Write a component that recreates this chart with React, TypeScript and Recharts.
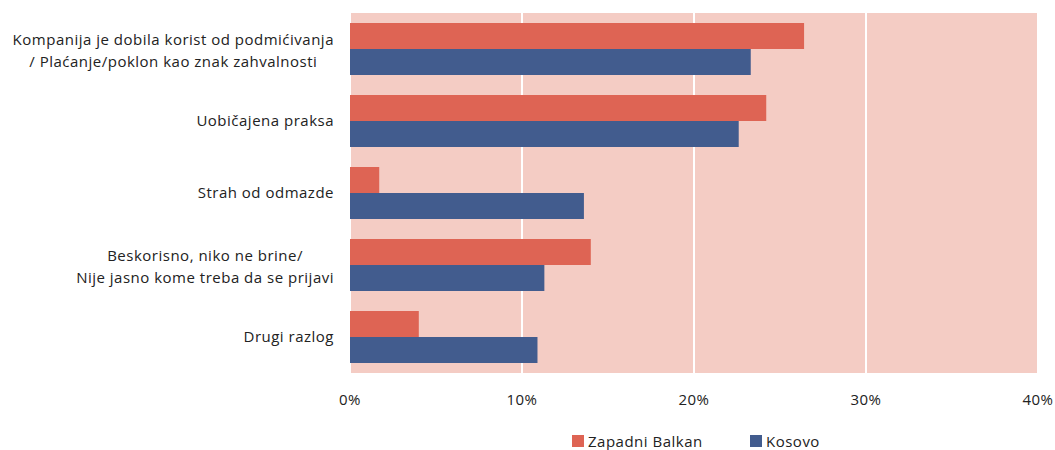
import { BarChart, Bar, XAxis, YAxis, CartesianGrid } from 'recharts';

const categories = [
  'Kompanija je dobila korist od podmićivanja\n/ Plaćanje/poklon kao znak zahvalnosti',
  'Uobičajena praksa',
  'Strah od odmazde',
  'Beskorisno, niko ne brine/\nNije jasno kome treba da se prijavi',
  'Drugi razlog',
];
const zapadniBalkan = [26.4, 24.2, 1.7, 14.0, 4.0];
const kosovo = [23.3, 22.6, 13.6, 11.3, 10.9];
const xTicks = [0, 10, 20, 30, 40];

const seriesNames = { zb: 'Zapadni Balkan', ks: 'Kosovo' };
const RED = '#DE6454';
const BLUE = '#425C8E';
const BG = '#F4CCC4';
const FONT = '"Open Sans", sans-serif';
const LS = 0.5;

const data = categories.map((c, i) => ({ name: c, zb: zapadniBalkan[i], ks: kosovo[i] }));

let ctx: CanvasRenderingContext2D | null = null;
const measure = (t: string, size: number) => {
  if (!ctx) ctx = document.createElement('canvas').getContext('2d');
  if (!ctx) return t.length * size * 0.5;
  ctx.font = `${size}px "Open Sans"`;
  return ctx.measureText(t).width + t.length * LS;
};

const YTick = ({ x, y, payload }: any) => {
  const lines: string[] = String(payload.value).split('\n');
  const size = 15;
  const rightX = x - 8;
  const common = { fontSize: size, fill: '#222', fontFamily: FONT, letterSpacing: LS };
  if (lines.length === 1) {
    return (
      <text x={rightX} y={y} dy="0.35em" textAnchor="end" {...common}>
        {lines[0]}
      </text>
    );
  }
  const maxW = Math.max(...lines.map((l) => measure(l, size)));
  const cx = rightX - maxW / 2;
  const lh = 22;
  const start = y + 2 - ((lines.length - 1) * lh) / 2;
  return (
    <g>
      {lines.map((l, i) => (
        <text key={i} x={cx} y={start + i * lh} dy="0.35em" textAnchor="middle" {...common}>
          {l}
        </text>
      ))}
    </g>
  );
};

const LegendBox = () => (
  <div
    style={{
      position: 'absolute',
      top: 432,
      left: 572,
      display: 'flex',
      fontFamily: FONT,
      fontSize: 15,
      letterSpacing: LS,
      color: '#222',
      lineHeight: '18px',
    }}
  >
    <div style={{ display: 'flex', alignItems: 'center', width: 178 }}>
      <span style={{ width: 12, height: 12, background: RED, marginRight: 4, display: 'inline-block' }} />
      {seriesNames.zb}
    </div>
    <div style={{ display: 'flex', alignItems: 'center' }}>
      <span style={{ width: 12, height: 12, background: BLUE, marginRight: 4, display: 'inline-block' }} />
      {seriesNames.ks}
    </div>
  </div>
);

export default function App() {
  return (
    <div style={{ position: 'absolute', left: 0, top: 0, width: 1055, height: 450, background: '#fff' }}>
      <BarChart
        width={1055}
        height={450}
        data={data}
        layout="vertical"
        margin={{ top: 13, right: 17, left: 0, bottom: 47 }}
        barCategoryGap={10}
        barGap={0}
      >
        <CartesianGrid horizontal={false} stroke="#ffffff" strokeWidth={2} fill={BG} fillOpacity={1} />
        <XAxis
          type="number"
          domain={[0, 40]}
          ticks={xTicks}
          tickFormatter={(v) => `${v}%`}
          axisLine={false}
          tickLine={false}
          tick={{ fontSize: 15, fill: '#222', fontFamily: FONT, letterSpacing: LS }}
          tickMargin={15}
        />
        <YAxis
          type="category"
          dataKey="name"
          width={350}
          axisLine={false}
          tickLine={false}
          tick={<YTick />}
          interval={0}
        />
        <Bar dataKey="zb" name={seriesNames.zb} fill={RED} isAnimationActive={false} />
        <Bar dataKey="ks" name={seriesNames.ks} fill={BLUE} isAnimationActive={false} />
      </BarChart>
      <LegendBox />
    </div>
  );
}
